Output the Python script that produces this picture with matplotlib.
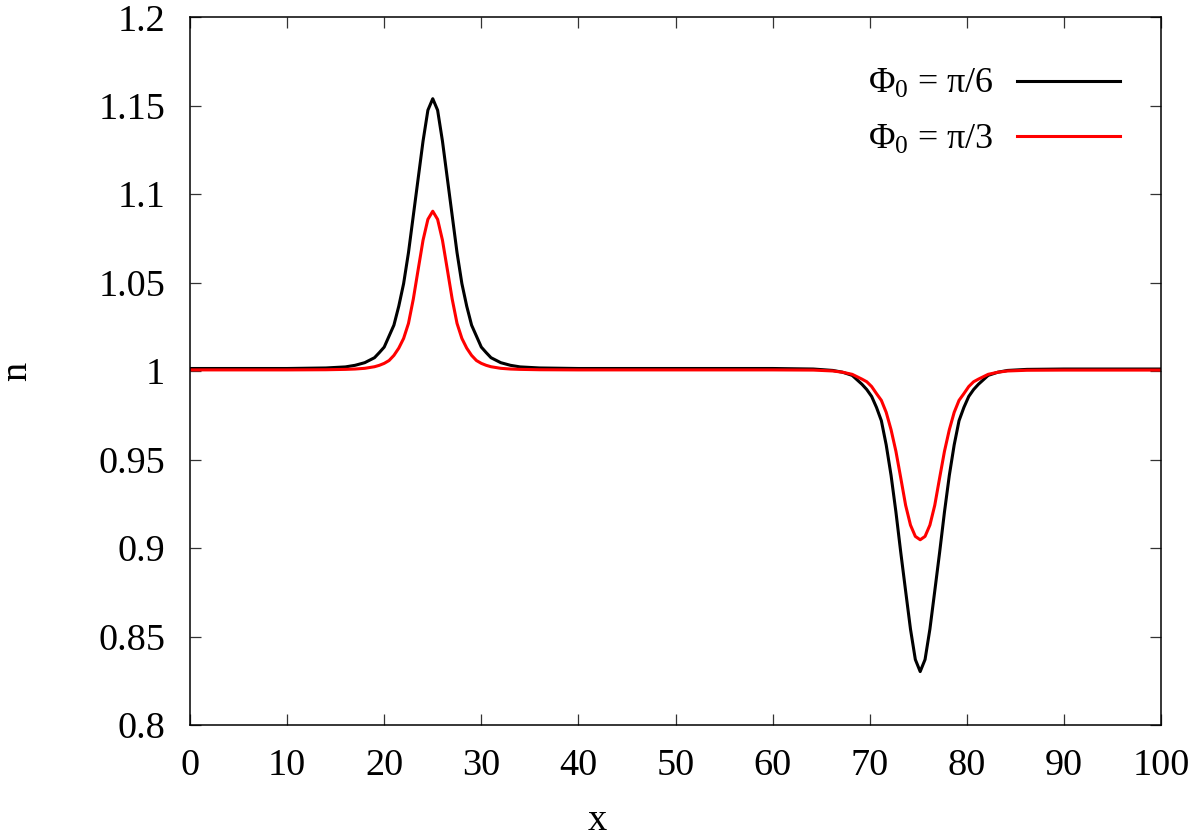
import matplotlib
matplotlib.use("Agg")
import matplotlib.pyplot as plt

plt.rcParams['font.family'] = ['Liberation Serif', 'DejaVu Serif']
plt.rcParams['mathtext.fontset'] = 'custom'
plt.rcParams['mathtext.rm'] = 'Liberation Serif'
plt.rcParams['mathtext.it'] = 'Liberation Serif:italic'

# ---- data ----
x_vals = [0, 5, 10,
          14, 16, 17, 18, 19, 19.5, 20, 20.5, 21, 21.5, 22, 22.5, 23, 23.5, 24, 24.5,
          25,
          25.5, 26, 26.5, 27, 27.5, 28, 28.5, 29, 29.5, 30, 30.5, 31, 32, 33, 34, 36,
          40, 50, 60,
          64.2, 66.2, 67.2, 68.2, 69.2, 69.7, 70.2, 70.7, 71.2, 71.7, 72.2, 72.7, 73.2, 73.7, 74.2, 74.7,
          75.2,
          75.7, 76.2, 76.7, 77.2, 77.7, 78.2, 78.7, 79.2, 79.7, 80.2, 80.7, 81.2, 82.2, 83.2, 84.2, 86.2,
          90, 95, 100]

n_pi6 = [1.0015, 1.0015, 1.0015,
         1.0018, 1.0024, 1.0033, 1.0048, 1.0076, 1.0105, 1.0136, 1.0198, 1.0260, 1.0367, 1.0495, 1.0670, 1.0880, 1.1090, 1.1300, 1.1475,
         1.1540,
         1.1475, 1.1300, 1.1090, 1.0880, 1.0670, 1.0495, 1.0367, 1.0260, 1.0198, 1.0136, 1.0105, 1.0076, 1.0048, 1.0033, 1.0024, 1.0018,
         1.0015, 1.0015, 1.0015,
         1.0012, 1.0004, 0.9994, 0.9976, 0.9926, 0.9896, 0.9857, 0.9795, 0.9720, 0.9583, 0.9411, 0.9204, 0.8975, 0.8757, 0.8542, 0.8370,
         0.8302,
         0.8370, 0.8542, 0.8757, 0.8975, 0.9204, 0.9411, 0.9583, 0.9720, 0.9795, 0.9857, 0.9896, 0.9926, 0.9976, 0.9994, 1.0004, 1.0010,
         1.0012, 1.0012, 1.0012]

n_pi3 = [1.0007, 1.0007, 1.0007,
         1.0008, 1.0010, 1.0012, 1.0016, 1.0025, 1.0033, 1.0044, 1.0060, 1.0089, 1.0130, 1.0185, 1.0270, 1.0408, 1.0575, 1.0740, 1.0858,
         1.0904,
         1.0858, 1.0740, 1.0575, 1.0408, 1.0270, 1.0185, 1.0130, 1.0089, 1.0060, 1.0044, 1.0033, 1.0025, 1.0016, 1.0012, 1.0010, 1.0008,
         1.0007, 1.0007, 1.0007,
         1.0006, 1.0001, 0.9994, 0.9982, 0.9955, 0.9940, 0.9913, 0.9873, 0.9835, 0.9767, 0.9669, 0.9547, 0.9396, 0.9242, 0.9130, 0.9066,
         0.9047,
         0.9066, 0.9130, 0.9242, 0.9396, 0.9547, 0.9669, 0.9767, 0.9835, 0.9873, 0.9913, 0.9940, 0.9955, 0.9982, 0.9994, 1.0001, 1.0005,
         1.0006, 1.0006, 1.0006]

labels = [r'Φ$_0$ = π/6', r'Φ$_0$ = π/3']
colors = ['#000000', '#ff0000']

x_ticks = [0, 10, 20, 30, 40, 50, 60, 70, 80, 90, 100]
y_ticks = [0.8, 0.85, 0.9, 0.95, 1.0, 1.05, 1.1, 1.15, 1.2]
y_ticklabels = ['0.8', '0.85', '0.9', '0.95', '1', '1.05', '1.1', '1.15', '1.2']

# ---- figure ----
fig = plt.figure(figsize=(12, 8.38), dpi=100)
ax = fig.add_axes([190/1200, 1 - 725/838, 971/1200, 707.7/838])

for n, lab, c in zip([n_pi6, n_pi3], labels, colors):
    ax.plot(x_vals, n, color=c, lw=2.2, label=lab)

ax.set_xlim(0, 100)
ax.set_ylim(0.8, 1.2)
ax.set_xticks(x_ticks)
ax.set_xticklabels([str(t) for t in x_ticks])
ax.set_yticks(y_ticks)
ax.set_yticklabels(y_ticklabels)

fs = 27.5
ax.tick_params(axis='both', which='both', direction='in', length=8, width=0.9,
               top=True, right=True, labelsize=fs, color='#333333')
ax.tick_params(axis='x', pad=17)
ax.tick_params(axis='y', pad=18)
for s in ax.spines.values():
    s.set_linewidth(1.1)

ax.set_xlabel('x', fontsize=fs)
ax.xaxis.label.set_va('center')
ax.xaxis.set_label_coords((597 - 190) / 971, (725 - 821) / 707.7)
ax.set_ylabel('n', fontsize=fs)
ax.yaxis.label.set_va('center')
ax.yaxis.set_label_coords((17 - 190) / 971, 0.5)

lfs = 26
leg = ax.legend(loc='upper right',
                bbox_to_anchor=((1120 - 190) / 971, 1 - (68 - 17.3) / 707.7),
                frameon=False, markerfirst=False, fontsize=lfs,
                handlelength=2.85, handletextpad=0.65, labelspacing=0.62,
                borderaxespad=0.0, borderpad=0.0)

fig.savefig('out.png', dpi=100)
